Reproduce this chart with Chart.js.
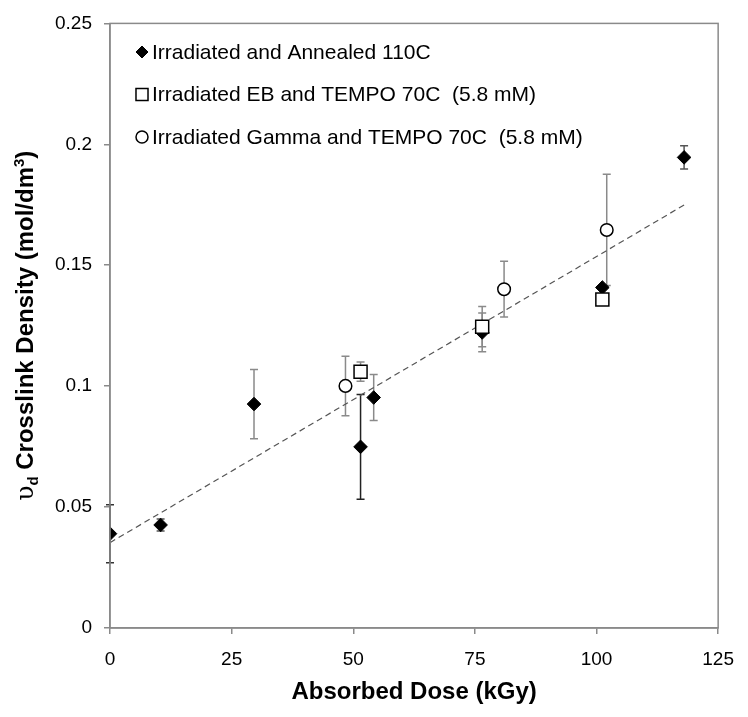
<!DOCTYPE html>
<html>
<head>
<meta charset="utf-8">
<title>Crosslink density vs absorbed dose</title>
<script src="https://cdn.jsdelivr.net/npm/chart.js@4/dist/chart.umd.min.js"></script>
<style>
  html, body { margin: 0; padding: 0; background: #fff; }
  #wrap { width: 748px; height: 717px; position: relative; }
</style>
</head>
<body>
<div id="wrap"><canvas id="chart" width="748" height="717"></canvas></div>
<script>
// Irradiated and annealed at 110C
const annealedDose = [0, 10.4, 29.6, 51.5, 54.2, 76.5, 101.2, 118];
const annealedDensity = [0.039, 0.0426, 0.0926, 0.0749, 0.0953, 0.1222, 0.1408, 0.1946];
const annealedErr = [0.012, 0.0025, 0.0143, 0.0217, 0.0095, 0.008, 0, 0.0048];

// EB irradiated, TEMPO 70C
const ebDose = [51.5, 76.5, 101.2];
const ebDensity = [0.106, 0.1246, 0.1358];
const ebErr = [0.004, 0.0083, 0];

// Gamma irradiated, TEMPO 70C
const gammaDose = [48.4, 81.0, 102.1];
const gammaDensity = [0.1001, 0.1401, 0.1646];
const gammaErr = [0.0123, 0.0115, 0.023];

// linear trend
const trendDose = [0, 118];
const trendDensity = [0.0353, 0.1749];

const xTicks = [0, 25, 50, 75, 100, 125];
const yTickLabels = ['0', '0.05', '0.1', '0.15', '0.2', '0.25'];

const seriesLabels = [
    'Irradiated and Annealed 110C',
    'Irradiated EB and TEMPO 70C  (5.8 mM)',
    'Irradiated Gamma and TEMPO 70C  (5.8 mM)'
];

const FONT = '"Liberation Sans", Arial, Helvetica, sans-serif';

function toPoints(xs, ys) {
    return xs.map((x, i) => ({ x: x, y: ys[i] }));
}

// vertical error bars with small caps, drawn under the markers
const errorBars = {
    id: 'errorBars',
    beforeDatasetsDraw(chart) {
        const ctx = chart.ctx;
        const xs = chart.scales.x, ys = chart.scales.y;
        chart.data.datasets.forEach(ds => {
            if (!ds.errors) return;
            ds.data.forEach((p, i) => {
                const e = ds.errors[i];
                if (!e) return;
                const px = xs.getPixelForValue(p.x);
                const top = ys.getPixelForValue(p.y + e);
                const bot = ys.getPixelForValue(p.y - e);
                ctx.save();
                ctx.strokeStyle = ds.errorColors ? ds.errorColors[i] : '#8a8a8a';
                ctx.lineWidth = 1.5;
                ctx.beginPath();
                ctx.moveTo(px, top); ctx.lineTo(px, bot);
                ctx.moveTo(px - 4, top); ctx.lineTo(px + 4, top);
                ctx.moveTo(px - 4, bot); ctx.lineTo(px + 4, bot);
                ctx.stroke();
                ctx.restore();
            });
        });
    }
};

// plot frame, axis titles and the in-plot legend
const decorations = {
    id: 'decorations',
    afterDraw(chart) {
        const ctx = chart.ctx;
        const a = chart.chartArea;
        ctx.save();
        ctx.strokeStyle = '#8a8a8a';
        ctx.lineWidth = 1.5;
        ctx.strokeRect(a.left, a.top, a.right - a.left, a.bottom - a.top);

        // x title
        ctx.fillStyle = '#000';
        ctx.font = 'bold 24px ' + FONT;
        ctx.textAlign = 'center';
        ctx.textBaseline = 'middle';
        ctx.fillText('Absorbed Dose (kGy)', (a.left + a.right) / 2, 692);

        // y title with subscript and superscript
        ctx.translate(26, (a.top + a.bottom) / 2);
        ctx.rotate(-Math.PI / 2);
        ctx.textAlign = 'left';
        ctx.textBaseline = 'alphabetic';
        const big = 'bold 24px ' + FONT, small = 'bold 15px ' + FONT;
        const parts = [
            { t: '\u03c5', f: '25px "DejaVu Serif", serif', dy: 0 },
            { t: 'd', f: small, dy: 5 },
            { t: ' Crosslink Density (mol/dm', f: big, dy: 0 },
            { t: '3', f: small, dy: -9 },
            { t: ')', f: big, dy: 0 }
        ];
        let total = 0;
        parts.forEach(p => { ctx.font = p.f; total += ctx.measureText(p.t).width; });
        let cx = -total / 2;
        parts.forEach(p => {
            ctx.font = p.f;
            ctx.fillText(p.t, cx, 7 + p.dy);
            cx += ctx.measureText(p.t).width;
        });
        ctx.restore();

        // legend
        ctx.save();
        ctx.font = '21px ' + FONT;
        ctx.textBaseline = 'middle';
        ctx.fillStyle = '#000';
        chart.data.datasets.slice(0, 3).forEach((ds, i) => {
            const y = 52 + i * 42.5;
            ctx.fillStyle = ds.backgroundColor;
            ctx.strokeStyle = ds.borderColor;
            ctx.lineWidth = ds.borderWidth;
            Chart.helpers.drawPoint(ctx, {
                pointStyle: ds.pointStyle,
                radius: ds.legendRadius,
                rotation: 0,
                borderWidth: ds.borderWidth
            }, 142, y);
            ctx.fillStyle = '#000';
            ctx.fillText(ds.label, 152, y + 1);
        });
        ctx.restore();
    }
};

const ctx = document.getElementById('chart').getContext('2d');
const chart = new Chart(ctx, {
    type: 'scatter',
    data: {
        datasets: [
            {
                label: seriesLabels[0],
                data: toPoints(annealedDose, annealedDensity),
                errors: annealedErr,
                errorColors: ['#333', '#555', '#8a8a8a', '#222', '#8a8a8a', '#8a8a8a', '#8a8a8a', '#555'],
                pointStyle: 'rectRot',
                pointRadius: 6.8,
                legendRadius: 6,
                backgroundColor: '#000',
                borderColor: '#000',
                borderWidth: 1,
                order: 3
            },
            {
                label: seriesLabels[1],
                data: toPoints(ebDose, ebDensity),
                errors: ebErr,
                pointStyle: 'rect',
                pointRadius: 9.2,
                legendRadius: 8.5,
                backgroundColor: '#fff',
                borderColor: '#000',
                borderWidth: 1.5,
                order: 2
            },
            {
                label: seriesLabels[2],
                data: toPoints(gammaDose, gammaDensity),
                errors: gammaErr,
                pointStyle: 'circle',
                pointRadius: 6.3,
                legendRadius: 6,
                backgroundColor: '#fff',
                borderColor: '#000',
                borderWidth: 1.5,
                order: 1
            },
            {
                label: 'Linear fit',
                data: toPoints(trendDose, trendDensity),
                showLine: true,
                pointRadius: 0,
                borderColor: '#555',
                borderWidth: 1.2,
                borderDash: [6, 4],
                fill: false,
                order: 4
            }
        ]
    },
    options: {
        responsive: false,
        animation: false,
        events: [],
        layout: { padding: { left: 0, top: 17, right: 18, bottom: 0 } },
        plugins: {
            legend: { display: false },
            tooltip: { enabled: false }
        },
        scales: {
            x: {
                type: 'linear',
                min: 0,
                max: 125,
                afterBuildTicks: scale => { scale.ticks = xTicks.map(v => ({ value: v })); },
                afterFit: scale => { scale.height = 89; },
                ticks: {
                    color: '#000',
                    font: { family: FONT, size: 19 },
                    padding: 14,
                    maxRotation: 0
                },
                grid: { drawOnChartArea: false, drawTicks: true, tickLength: 6, color: '#8a8a8a', lineWidth: 1.5 },
                border: { display: true, color: '#8a8a8a', width: 1.5 }
            },
            y: {
                type: 'linear',
                min: 0,
                max: 0.25,
                afterBuildTicks: scale => {
                    scale.ticks = yTickLabels.map(s => ({ value: parseFloat(s) }));
                },
                afterFit: scale => { scale.width = 110; },
                ticks: {
                    color: '#000',
                    font: { family: FONT, size: 19 },
                    padding: 12,
                    callback: (v, i) => yTickLabels[i]
                },
                grid: { drawOnChartArea: false, drawTicks: true, tickLength: 6, color: '#8a8a8a', lineWidth: 1.5 },
                border: { display: true, color: '#8a8a8a', width: 1.5 }
            }
        }
    },
    plugins: [errorBars, decorations]
});
</script>
</body>
</html>
